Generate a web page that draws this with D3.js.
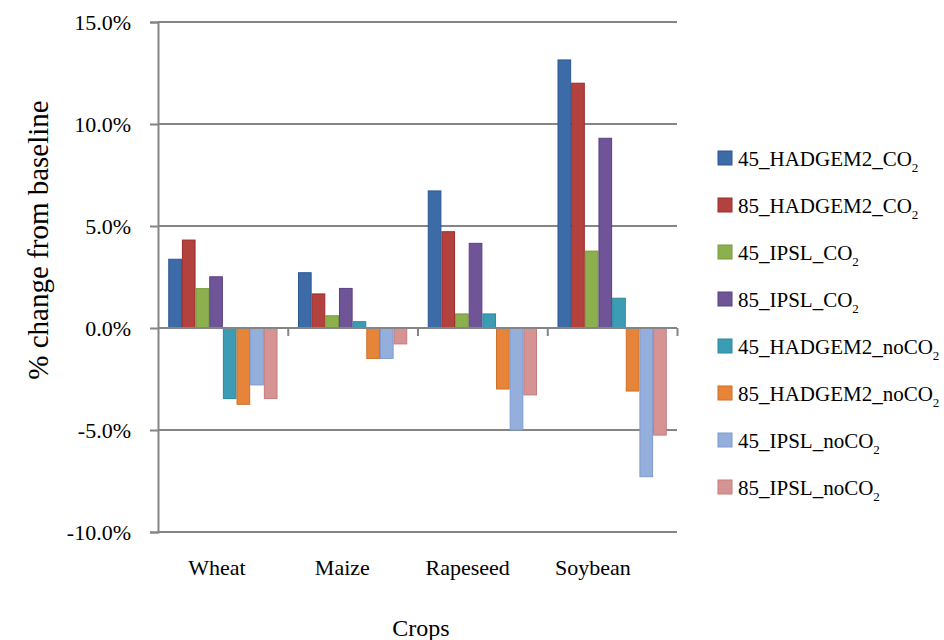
<!DOCTYPE html>
<html><head><meta charset="utf-8">
<script src="https://cdn.jsdelivr.net/npm/d3@7"></script>
<style>body{margin:0;background:#fff}svg{display:block}text{font-family:"Times New Roman","Liberation Serif",serif;fill:#000}</style>
</head><body><svg id="c" width="944" height="640"></svg>
<script>
const crops = ["Wheat", "Maize", "Rapeseed", "Soybean"];
const seriesNames = ["45_HADGEM2_CO", "85_HADGEM2_CO", "45_IPSL_CO", "85_IPSL_CO",
  "45_HADGEM2_noCO", "85_HADGEM2_noCO", "45_IPSL_noCO", "85_IPSL_noCO"];
const s45_HADGEM2_CO2   = [3.37, 2.71, 6.72, 13.14];
const s85_HADGEM2_CO2   = [4.31, 1.67, 4.72, 12.0];
const s45_IPSL_CO2      = [1.93, 0.60, 0.69, 3.77];
const s85_IPSL_CO2      = [2.51, 1.94, 4.15, 9.30];
const s45_HADGEM2_noCO2 = [-3.46, 0.31, 0.69, 1.46];
const s85_HADGEM2_noCO2 = [-3.74, -1.49, -2.99, -3.09];
const s45_IPSL_noCO2    = [-2.79, -1.49, -5.0, -7.29];
const s85_IPSL_noCO2    = [-3.46, -0.78, -3.28, -5.25];
const seriesValues = [s45_HADGEM2_CO2, s85_HADGEM2_CO2, s45_IPSL_CO2, s85_IPSL_CO2,
  s45_HADGEM2_noCO2, s85_HADGEM2_noCO2, s45_IPSL_noCO2, s85_IPSL_noCO2];
const yTicks = [-10, -5, 0, 5, 10, 15];
const fills   = ["#3d6ba8", "#b3413e", "#8db04f", "#6f5597", "#3b9cb4", "#e6853a", "#94afdc", "#d69394"];
const strokes = ["#2d5892", "#9a2d2a", "#779b3c", "#5a4282", "#2a8aa1", "#d06f25", "#7e9ace", "#c47c7d"];

const FONT = "'Times New Roman', 'Liberation Serif', serif";
const svg = d3.select("#c");
const pL = 158, pR = 677, pT = 22, pB = 532;
const y = d3.scaleLinear().domain([-10, 15]).range([pB, pT]);
const x = d3.scaleBand().domain(crops).range([pL, pR]).padding(0);
const xs = d3.scaleBand().domain(d3.range(seriesNames.length)).range([0, x.bandwidth()]).paddingInner(0).paddingOuter(0.75);
const axisCol = "#858585";

// gridlines
svg.append("g").selectAll("line").data(yTicks.filter(d => d !== 0)).join("line")
  .attr("x1", pL).attr("x2", pR).attr("y1", d => y(d)).attr("y2", d => y(d))
  .attr("stroke", axisCol).attr("stroke-width", 2);

// bars
const data = [];
seriesValues.forEach((vals, si) => vals.forEach((v, ci) => data.push({si, crop: crops[ci], v})));
svg.append("g").selectAll("rect").data(data).join("rect")
  .attr("x", d => x(d.crop) + xs(d.si) + 0.5)
  .attr("width", xs.bandwidth() - 1)
  .attr("y", d => y(Math.max(0, d.v)))
  .attr("height", d => Math.abs(y(d.v) - y(0)))
  .attr("fill", d => fills[d.si]).attr("stroke", d => strokes[d.si]).attr("stroke-width", 1);

// y axis
const ya = svg.append("g").attr("transform", `translate(${pL},0)`)
  .call(d3.axisLeft(y).tickValues(yTicks).tickSize(8).tickPadding(19)
    .tickFormat(d => d.toFixed(1) + "%"));
ya.attr("font-family", FONT);
ya.select(".domain").attr("stroke", axisCol).attr("stroke-width", 2);
ya.selectAll(".tick line").attr("stroke", axisCol).attr("stroke-width", 2);
ya.selectAll(".tick text").attr("font-size", 22).attr("font-family", FONT).attr("fill", "#000");

// x axis at zero
const xa = svg.append("g").attr("transform", `translate(0,${y(0)})`)
  .call(d3.axisBottom(d3.scaleLinear().domain([0, crops.length]).range([pL, pR]))
    .tickValues(d3.range(1, crops.length + 1)).tickSize(8).tickFormat(""));
xa.select(".domain").attr("stroke", axisCol).attr("stroke-width", 2).attr("d", `M${pL},0H${pR}`);
xa.selectAll(".tick line").attr("stroke", axisCol).attr("stroke-width", 2);

// category labels
const xl = d3.scalePoint().domain(crops).range([217, 593]);
svg.append("g").selectAll("text").data(crops).join("text")
  .attr("x", d => xl(d)).attr("y", 575).attr("text-anchor", "middle")
  .attr("font-family", FONT).attr("font-size", 22).text(d => d);

// axis titles
svg.append("text").attr("x", 421).attr("y", 636).attr("text-anchor", "middle")
  .attr("font-family", FONT).attr("font-size", 24).text("Crops");
svg.append("text").attr("transform", "translate(48,240) rotate(-90)").attr("text-anchor", "middle")
  .attr("font-family", FONT).attr("font-size", 29).text("% change from baseline");

// legend
const lg = svg.append("g").selectAll("g").data(seriesNames).join("g")
  .attr("transform", (d, i) => `translate(718,${158 + i * 47})`);
lg.append("rect").attr("x", 0).attr("y", -7).attr("width", 14).attr("height", 14)
  .attr("fill", (d, i) => fills[i]).attr("stroke", (d, i) => strokes[i]);
const lt = lg.append("text").attr("x", 20).attr("y", 8).attr("font-family", FONT).attr("font-size", 21);
lt.append("tspan").text(d => d);
lt.append("tspan").attr("dy", 6).attr("font-size", 13).text("2");
</script></body></html>
